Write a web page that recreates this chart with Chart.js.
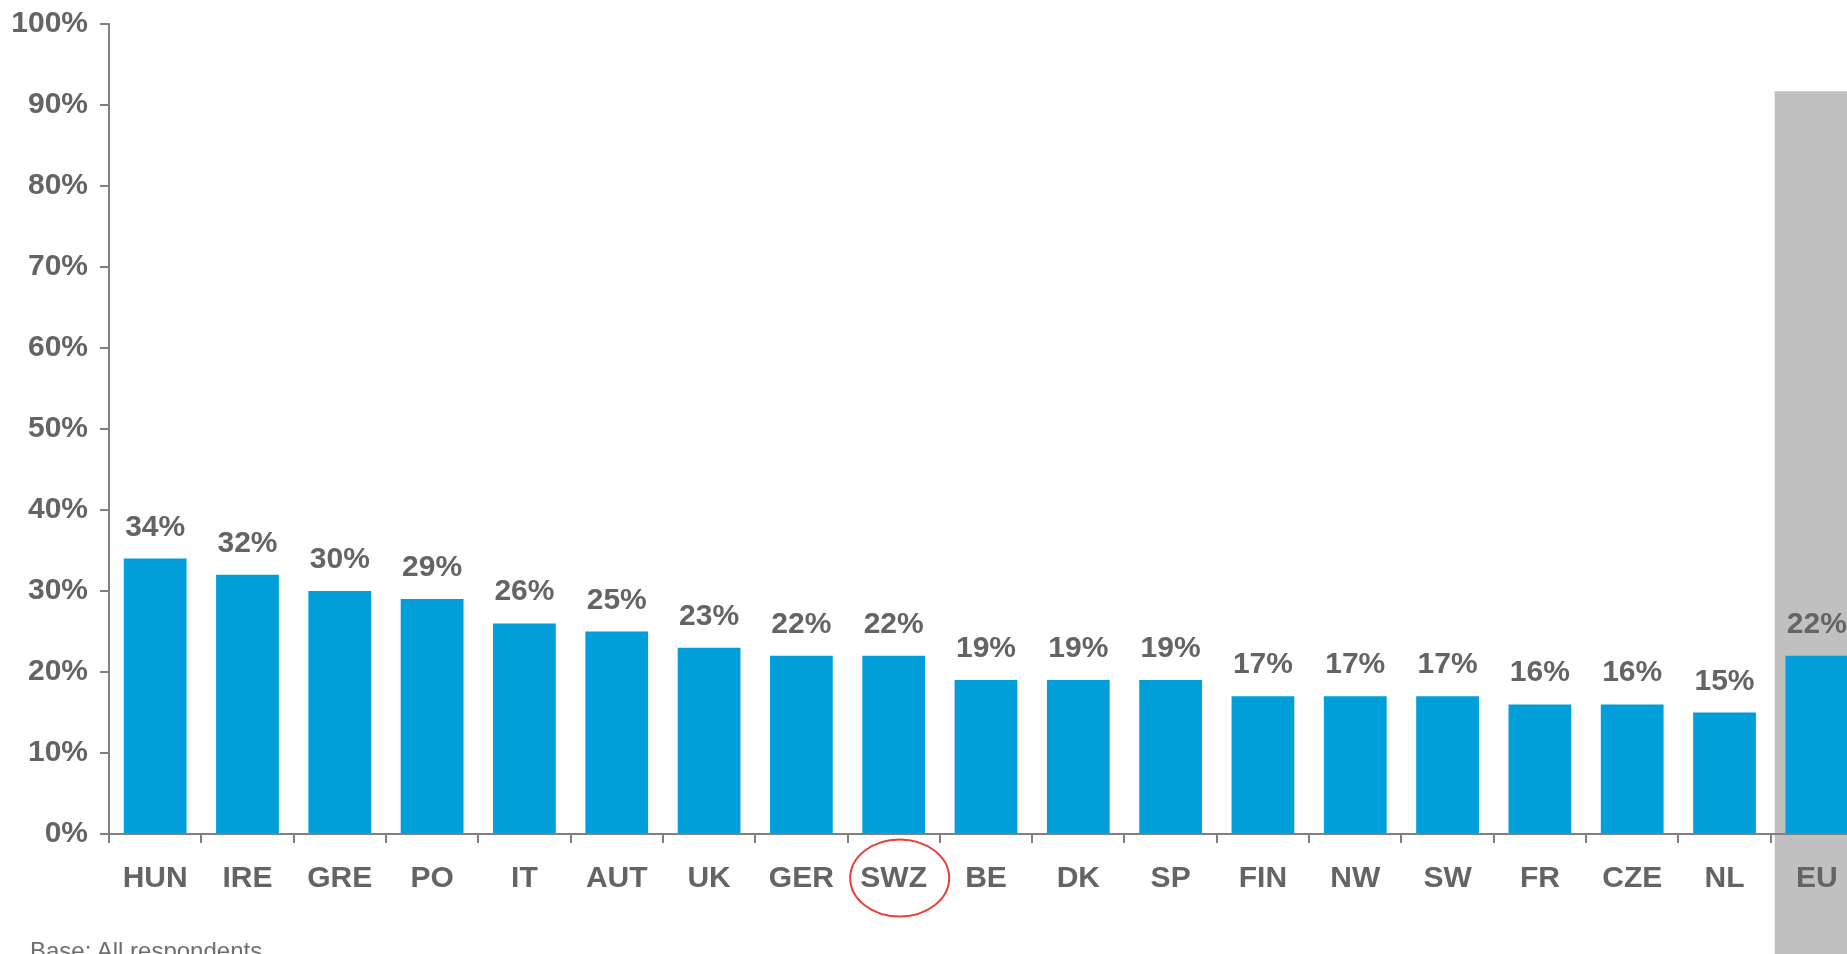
<!DOCTYPE html>
<html>
<head>
<meta charset="utf-8">
<script src="https://cdn.jsdelivr.net/npm/chart.js@4"></script>
<style>
  html, body { margin: 0; padding: 0; background: #fff; overflow: hidden; }
  #wrap { position: absolute; left: 0; top: 0; width: 1863px; height: 954px; }
  #base {
    position: absolute; left: 30px; top: 939px;
    font: 24px/24px "Liberation Sans", Arial, sans-serif; color: #6e6e6e;
    white-space: nowrap;
  }
</style>
</head>
<body>
<div id="wrap"><canvas id="chart" width="1863" height="954"></canvas></div>
<div id="base">Base: All respondents</div>
<script>
  // data
  const countries = ["HUN", "IRE", "GRE", "PO", "IT", "AUT", "UK", "GER", "SWZ", "BE", "DK", "SP", "FIN", "NW", "SW", "FR", "CZE", "NL", "EU"];
  const shares = [34, 32, 30, 29, 26, 25, 23, 22, 22, 19, 19, 19, 17, 17, 17, 16, 16, 15, 22];
  const yTicks = [0, 10, 20, 30, 40, 50, 60, 70, 80, 90, 100];
  const highlightCountry = "SWZ";
  const averageCountry = "EU";
  const averageShadeLevel = 91.7;

  const FONT = '"Liberation Sans", Arial, sans-serif';
  const TEXT = "#646464";
  const AXIS = "#808080";

  // grey band behind the EU column (drawn before axes)
  const euShade = {
    id: "euShade",
    beforeDraw(chart) {
      const x = chart.scales.x, y = chart.scales.y;
      const i = countries.indexOf(averageCountry);
      const half = x.width / countries.length / 2;
      const left = x.getPixelForValue(i) - half + 4;
      const top = y.getPixelForValue(averageShadeLevel);
      const ctx = chart.ctx;
      ctx.save();
      ctx.fillStyle = "#c0c0c0";
      ctx.fillRect(left, top, chart.width - left, chart.height - top);
      ctx.restore();
    }
  };

  // value labels above bars
  const valueLabels = {
    id: "valueLabels",
    afterDatasetsDraw(chart) {
      const ctx = chart.ctx;
      const meta = chart.getDatasetMeta(0);
      ctx.save();
      ctx.font = "bold 30px " + FONT;
      ctx.fillStyle = TEXT;
      ctx.textAlign = "center";
      ctx.textBaseline = "alphabetic";
      meta.data.forEach((bar, i) => {
        ctx.fillText(shares[i] + "%", bar.x, bar.y - 23);
      });
      ctx.restore();
    }
  };

  // red ring round the highlighted country label
  const ring = {
    id: "ring",
    afterDraw(chart) {
      const x = chart.scales.x;
      const i = countries.indexOf(highlightCountry);
      const cx = x.getPixelForValue(i) + 6;
      const cy = chart.chartArea.bottom + 44;
      const ctx = chart.ctx;
      ctx.save();
      ctx.strokeStyle = "#e8403a";
      ctx.lineWidth = 2;
      ctx.beginPath();
      ctx.ellipse(cx, cy, 49.5, 38.5, 0, 0, Math.PI * 2);
      ctx.stroke();
      ctx.restore();
    }
  };

  new Chart(document.getElementById("chart"), {
    type: "bar",
    data: {
      labels: countries,
      datasets: [{
        data: shares,
        backgroundColor: "#009fda",
        barPercentage: 0.68,
        categoryPercentage: 1
      }]
    },
    options: {
      responsive: false,
      animation: false,
      layout: { padding: { top: 24, left: 0, right: 0, bottom: 0 } },
      plugins: { legend: { display: false }, tooltip: { enabled: false } },
      scales: {
        x: {
          grid: { drawOnChartArea: false, drawTicks: true, tickLength: 9, offset: true, color: AXIS, lineWidth: 2 },
          border: { color: AXIS, width: 2 },
          ticks: { font: { family: FONT, size: 30, weight: "bold" }, color: TEXT, padding: 18, maxRotation: 0, autoSkip: false },
          afterFit(s) { s.height = 120; s.paddingLeft = 0; s.paddingRight = 0; }
        },
        y: {
          min: 0,
          max: 100,
          afterBuildTicks(s) { s.ticks = yTicks.map(v => ({ value: v })); },
          grid: { drawOnChartArea: false, drawTicks: true, tickLength: 9, color: AXIS, lineWidth: 2 },
          border: { color: AXIS, width: 2 },
          ticks: { font: { family: FONT, size: 30, weight: "bold" }, color: TEXT, padding: 12, callback: v => v + "%" },
          afterFit(s) { s.width = 109; s.paddingTop = 0; s.paddingBottom = 0; }
        }
      }
    },
    plugins: [euShade, valueLabels, ring]
  });
</script>
</body>
</html>
